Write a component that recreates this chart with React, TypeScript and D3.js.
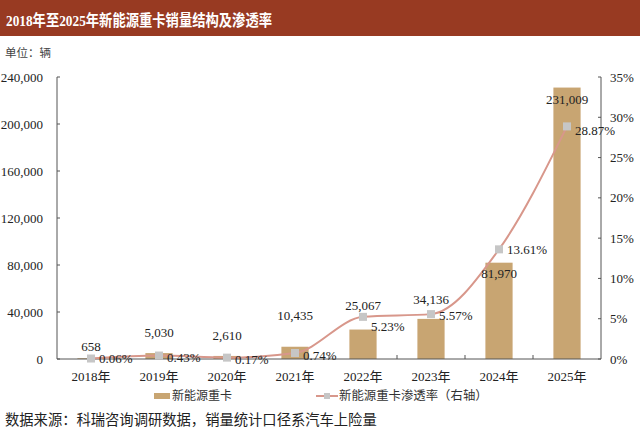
import * as d3 from 'd3';

// 年份类别
const years = ['2018年', '2019年', '2020年', '2021年', '2022年', '2023年', '2024年', '2025年'];
// 新能源重卡销量（辆）
const sales = [658, 5030, 2610, 10435, 25067, 34136, 81970, 231009];
// 渗透率（%）
const penetration = [0.06, 0.43, 0.17, 0.74, 5.23, 5.57, 13.61, 28.87];
// 坐标轴刻度
const leftTicks = [0, 40000, 80000, 120000, 160000, 200000, 240000];
const rightTicks = [0, 5, 10, 15, 20, 25, 30, 35];

// label nudges (Excel labels were moved by hand)
const salesLabelDy = [-12, -21, -20, -31, -24, -19, 11, 12];
const pctLabelDy = [0, 2, 2, 2, 10, 1, 0, 4];

const W = 640;
const H = 431;
const margin = { left: 57, right: 39, top: 77, bottom: 72 };
const innerW = W - margin.left - margin.right;
const innerH = H - margin.top - margin.bottom;

const serif = '"Liberation Serif", "Times New Roman", "Noto Sans CJK SC", serif';
const textColor = '#222';
const axisColor = '#555';
const barColor = '#c8a572';
const lineColor = '#d8978b';
const markerColor = '#c6c6c6';

export default function App() {
  const x = d3.scaleBand<string>().domain(years).range([0, innerW]).paddingInner(0.6).paddingOuter(0.3);
  const yL = d3.scaleLinear().domain([0, 240000]).range([innerH, 0]);
  const yR = d3.scaleLinear().domain([0, 35]).range([innerH, 0]);
  const fmt = d3.format(',');
  const cx = (c: string) => (x(c) ?? 0) + x.bandwidth() / 2;

  const line = d3
    .line<number>()
    .x((_, i) => cx(years[i]))
    .y((d) => yR(d))
    .curve(d3.curveMonotoneX);

  const step = x.step();
  const boundaries = d3.range(1, years.length).map((i) => i * step);

  return (
    <svg width={W} height={H} style={{ position: 'absolute', left: 0, top: 0, background: '#fff' }} fontFamily={serif}>
      {/* title bar */}
      <rect x={0} y={0} width={W} height={36} fill="#983a22" />
      <text
        x={6}
        y={20}
        dominantBaseline="central"
        fill="#fff"
        fontSize={15.5}
        fontWeight="bold"
        textLength={266}
        lengthAdjust="spacingAndGlyphs"
      >
        2018年至2025年新能源重卡销量结构及渗透率
      </text>
      <text x={5} y={53} dominantBaseline="central" fill="#444" fontSize={11.5}>
        单位：辆
      </text>

      <g transform={`translate(${margin.left},${margin.top})`}>
        {/* bars */}
        {years.map((c, i) => (
          <rect key={c} x={x(c)} y={yL(sales[i])} width={x.bandwidth()} height={innerH - yL(sales[i])} fill={barColor} />
        ))}

        {/* axes */}
        <line x1={0} x2={0} y1={0} y2={innerH} stroke={axisColor} />
        <line x1={innerW} x2={innerW} y1={0} y2={innerH} stroke={axisColor} />
        <line x1={0} x2={innerW} y1={innerH} y2={innerH} stroke={axisColor} />
        {leftTicks.map((t) => (
          <g key={t}>
            <line x1={0} x2={3} y1={yL(t)} y2={yL(t)} stroke={axisColor} />
            <text x={-14} y={yL(t)} textAnchor="end" dominantBaseline="central" fontSize={13} fill={textColor}>
              {fmt(t)}
            </text>
          </g>
        ))}
        {rightTicks.map((t) => (
          <g key={t}>
            <line x1={innerW - 3} x2={innerW} y1={yR(t)} y2={yR(t)} stroke={axisColor} />
            <text x={innerW + 9} y={yR(t)} dominantBaseline="central" fontSize={13} fill={textColor}>
              {t}%
            </text>
          </g>
        ))}
        {boundaries.map((b) => (
          <line key={b} x1={b} x2={b} y1={innerH - 4} y2={innerH} stroke={axisColor} />
        ))}
        {years.map((c) => (
          <text key={c} x={cx(c)} y={innerH + 17} textAnchor="middle" dominantBaseline="central" fontSize={13} fill={textColor}>
            {c}
          </text>
        ))}

        {/* penetration line */}
        <path d={line(penetration) ?? ''} fill="none" stroke={lineColor} strokeWidth={2} />
        {penetration.map((p, i) => (
          <rect key={i} x={cx(years[i]) - 4} y={yR(p) - 4} width={8} height={8} fill={markerColor} />
        ))}

        {/* labels */}
        {sales.map((v, i) => (
          <text
            key={i}
            x={cx(years[i])}
            y={yL(v) + salesLabelDy[i]}
            textAnchor="middle"
            dominantBaseline="central"
            fontSize={13}
            fill={textColor}
          >
            {fmt(v)}
          </text>
        ))}
        {penetration.map((p, i) => (
          <text key={i} x={cx(years[i]) + 8} y={yR(p) + pctLabelDy[i]} dominantBaseline="central" fontSize={13} fill={textColor}>
            {p.toFixed(2)}%
          </text>
        ))}
      </g>

      {/* legend */}
      <rect x={154} y={393} width={16} height={6} fill={barColor} />
      <text x={172} y={396} dominantBaseline="central" fontSize={12} fill="#333">
        新能源重卡
      </text>
      <line x1={316} x2={338} y1={396} y2={396} stroke={lineColor} strokeWidth={2} />
      <rect x={324} y={393} width={6} height={6} fill={markerColor} />
      <text x={339} y={396} dominantBaseline="central" fontSize={12.4} fill="#333">
        新能源重卡渗透率（右轴）
      </text>

      <text x={5} y={420} dominantBaseline="central" fontSize={14.3} fill="#222">
        数据来源：科瑞咨询调研数据，销量统计口径系汽车上险量
      </text>
    </svg>
  );
}
